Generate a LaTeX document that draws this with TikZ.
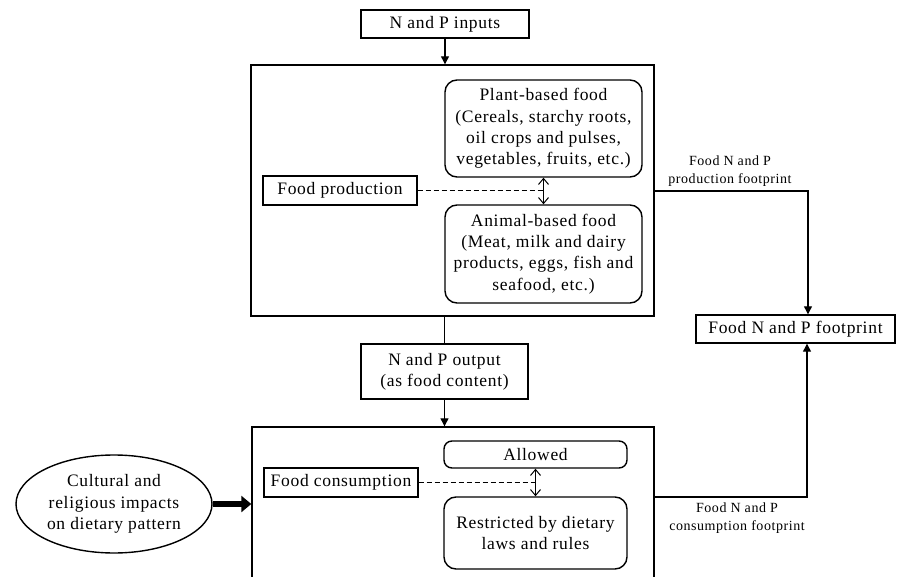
\documentclass[tikz,border=0pt]{standalone}
\usepackage{fontspec}
\setmainfont{Liberation Serif}[LetterSpace=4]
\usetikzlibrary{arrows.meta,shapes.geometric}
\begin{document}
\begin{tikzpicture}[x=1pt,y=-1pt,
 box/.style={draw,line width=1.4pt,inner sep=0pt,align=center,font=\fontsize{17.5}{21.2}\selectfont},
 rbox/.style={box,rounded corners=12pt},
 conn/.style={line width=1.2pt},
 arr/.style={conn,-{Triangle[length=8pt,width=8pt]}},
 dbl/.style={line width=1pt,{Straight Barb[length=6pt,width=10pt]}-{Straight Barb[length=6pt,width=10pt]}},
 dsh/.style={line width=1.2pt,dash pattern=on 5pt off 3pt},
 lbl/.style={font=\fontsize{14}{18}\selectfont,align=center,inner sep=0pt}]
\useasboundingbox (0,0) rectangle (897,577);
\clip (0,0) rectangle (897,577);
% nodes
\node[box,minimum width=168pt,minimum height=28pt] (inp) at (445,24) {N and P inputs};
\node[draw,line width=1.4pt,minimum width=403pt,minimum height=251pt,inner sep=0pt] (box1) at (452.5,190.5) {};
\node[rbox,minimum width=197pt,minimum height=97pt] (plant) at (543.5,128.5) {Plant-based food\\(Cereals, starchy roots,\\oil crops and pulses,\\vegetables, fruits, etc.)};
\node[rbox,minimum width=197pt,minimum height=98pt] (animal) at (543.5,254) {Animal-based food\\(Meat, milk and dairy\\products, eggs, fish and\\seafood, etc.)};
\node[box,minimum width=154pt,minimum height=29pt] (fprod) at (340,190.5) {Food production};
\node[box,minimum width=167pt,minimum height=55pt] (out) at (444.5,371.5) {N and P output\\(as food content)};
\node[draw,line width=1.4pt,minimum width=402pt,minimum height=200pt,inner sep=0pt] (box2) at (453,527) {};
\node[rbox,rounded corners=8pt,minimum width=183pt,minimum height=27pt] (allow) at (535.5,454.5) {Allowed};
\node[rbox,minimum width=183pt,minimum height=72pt] (restr) at (535.5,533) {Restricted by dietary\\laws and rules};
\node[box,minimum width=154pt,minimum height=29pt] (fcons) at (341,482.5) {Food consumption};
\node[box,ellipse,minimum width=196pt,minimum height=98pt] (ell) at (114,504) {Cultural and\\religious impacts\\on dietary pattern};
\node[box,minimum width=199pt,minimum height=28pt] (fp) at (795.5,329) {Food N and P footprint};
\node[lbl] (lprod) at (730,171) {Food N and P\\production footprint};
\node[lbl] (lcons) at (737,518.5) {Food N and P\\consumption footprint};
\coordinate (c1) at (808,191);
\coordinate (c2) at (807,497);
% connectors
\draw[arr] (inp.south) -- (inp.south |- box1.north);
\draw[conn] (box1.south -| out.north) -- (out.north);
\draw[arr] (out.south) -- (out.south |- box2.north);
\draw[dsh] (fprod.east) -- (fprod.east -| plant.south);
\draw[dbl] (plant.south) -- (animal.north);
\draw[dsh] (fcons.east) -- (fcons.east -| allow.south);
\draw[dbl] (allow.south) -- (restr.north);
\draw[arr] (box1.east |- c1) -- (c1) -- (c1 |- fp.north);
\draw[arr] (box2.east |- c2) -- (c2) -- (c2 |- fp.south);
\draw[line width=6pt,-{Triangle[length=10pt,width=16pt]}] (ell.east) -- (ell.east -| box2.west);
\end{tikzpicture}
\end{document}
